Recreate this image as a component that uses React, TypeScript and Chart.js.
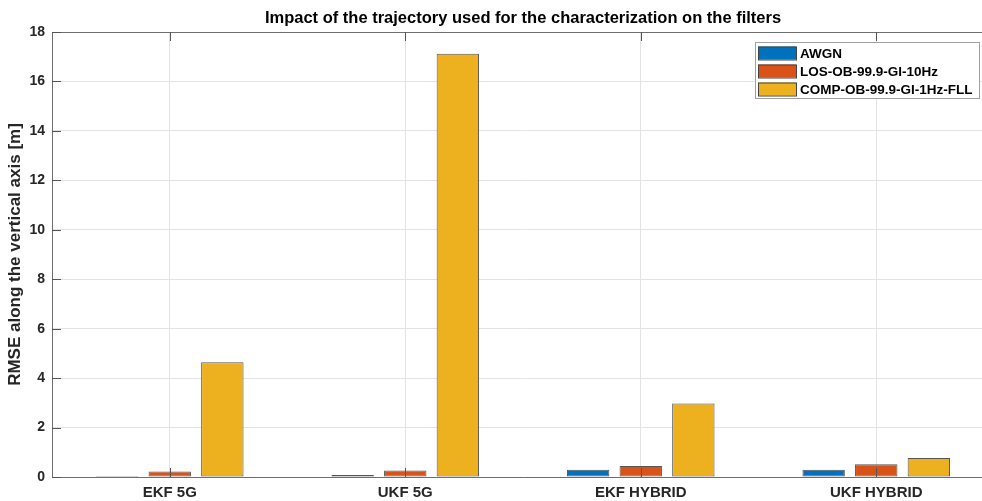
import React, { useEffect, useRef } from "react";
import { Chart, registerables } from "chart.js";

Chart.register(...registerables);

const categories = ["EKF 5G", "UKF 5G", "EKF HYBRID", "UKF HYBRID"];
const seriesLabels = ["AWGN", "LOS-OB-99.9-GI-10Hz", "COMP-OB-99.9-GI-1Hz-FLL"];
const awgnValues = [0.04, 0.08, 0.29, 0.29];
const losValues = [0.22, 0.26, 0.44, 0.52];
const compValues = [4.64, 17.12, 2.97, 0.77];
const seriesColors = ["#0072BD", "#D95319", "#EDB120"];
const yMin = 0;
const yMax = 18;
const yStep = 2;
const titleText = "Impact of the trajectory used for the characterization on the filters";
const yTitle = "RMSE along the vertical axis [m]";

const FONT = "'Liberation Sans', Arial, Helvetica, sans-serif";

const decorPlugin = {
  id: "decor",
  afterDraw(chart: any) {
    const ctx = chart.ctx;
    const { left, right, top, bottom } = chart.chartArea;
    const yScale = chart.scales.y;
    const xScale = chart.scales.x;
    ctx.save();
    // box lines
    ctx.strokeStyle = "#6e6e6e";
    ctx.lineWidth = 1;
    ctx.beginPath();
    ctx.moveTo(left, top + 0.5);
    ctx.lineTo(right, top + 0.5);
    ctx.moveTo(right - 0.5, top);
    ctx.lineTo(right - 0.5, bottom);
    ctx.stroke();
    // inward ticks
    ctx.strokeStyle = "#555";
    ctx.beginPath();
    yScale.ticks.forEach((t: any) => {
      const y = Math.round(yScale.getPixelForValue(t.value)) + 0.5;
      ctx.moveTo(left, y);
      ctx.lineTo(left + 9, y);
      ctx.moveTo(right, y);
      ctx.lineTo(right - 9, y);
    });
    categories.forEach((_, i) => {
      const x = Math.round(xScale.getPixelForValue(i)) + 0.5;
      ctx.moveTo(x, bottom);
      ctx.lineTo(x, bottom - 9);
      ctx.moveTo(x, top);
      ctx.lineTo(x, top + 9);
    });
    ctx.stroke();
    // title
    ctx.fillStyle = "#000";
    ctx.font = `bold 16.5px ${FONT}`;
    ctx.textAlign = "center";
    ctx.textBaseline = "middle";
    ctx.fillText(titleText, (left + right) / 2, 18);
    // legend
    const lx = 755;
    const ly = 42;
    const lw = 224;
    const lh = 56;
    ctx.fillStyle = "#fff";
    ctx.fillRect(lx, ly, lw, lh);
    ctx.strokeStyle = "#a0a0a0";
    ctx.strokeRect(lx + 0.5, ly + 0.5, lw, lh);
    chart.data.datasets.forEach((ds: any, i: number) => {
      const ry = ly + 11 + i * 18;
      ctx.fillStyle = ds.backgroundColor;
      ctx.fillRect(758, ry - 6.5, 38, 13);
      ctx.strokeStyle = "#444";
      ctx.strokeRect(758.5, ry - 6, 38, 13);
      ctx.fillStyle = "#000";
      ctx.font = `bold 13.5px ${FONT}`;
      ctx.textAlign = "left";
      ctx.textBaseline = "middle";
      ctx.fillText(ds.label, 800, ry + 1);
    });
    ctx.restore();
  },
};

export default function App() {
  const canvasRef = useRef<HTMLCanvasElement | null>(null);

  useEffect(() => {
    if (!canvasRef.current) return;
    const allValues = [awgnValues, losValues, compValues];
    const chart = new Chart(canvasRef.current, {
      type: "bar",
      data: {
        labels: categories,
        datasets: allValues.map((vals, i) => ({
          label: seriesLabels[i],
          data: vals,
          backgroundColor: seriesColors[i],
          borderColor: "#555",
          borderWidth: 1,
          borderSkipped: false,
          categoryPercentage: 0.67,
          barPercentage: 0.806,
        })),
      },
      options: {
        responsive: false,
        animation: false,
        layout: { padding: { top: 32, right: 6, left: 0, bottom: 0 } },
        plugins: {
          legend: { display: false },
          title: { display: false },
          tooltip: { enabled: false },
        },
        scales: {
          x: {
            type: "category",
            offset: true,
            grid: { display: true, offset: false, color: "#e3e3e3", drawTicks: false },
            border: { display: true, color: "#6e6e6e" },
            ticks: {
              color: "#262626",
              font: { family: FONT, size: 15, weight: "bold" },
              padding: 7,
              maxRotation: 0,
            },
            afterFit: (s: any) => {
              s.height = 24;
            },
          },
          y: {
            min: yMin,
            max: yMax,
            grid: { color: "#e3e3e3", drawTicks: false },
            border: { display: true, color: "#6e6e6e" },
            ticks: {
              stepSize: yStep,
              color: "#262626",
              font: { family: FONT, size: 14, weight: "bold" },
              padding: 7,
            },
            title: {
              display: true,
              text: yTitle,
              color: "#262626",
              font: { family: FONT, size: 17, weight: "bold" },
              padding: { top: 5, bottom: 0 },
            },
            afterFit: (s: any) => {
              s.width = 52;
            },
          },
        },
      },
      plugins: [decorPlugin],
    });
    return () => chart.destroy();
  }, []);

  return (
    <div
      style={{
        position: "fixed",
        left: 0,
        top: 0,
        width: 982,
        height: 501,
        overflow: "hidden",
        background: "#fff",
      }}
    >
      <canvas ref={canvasRef} width={1000} height={501} style={{ display: "block" }} />
    </div>
  );
}
